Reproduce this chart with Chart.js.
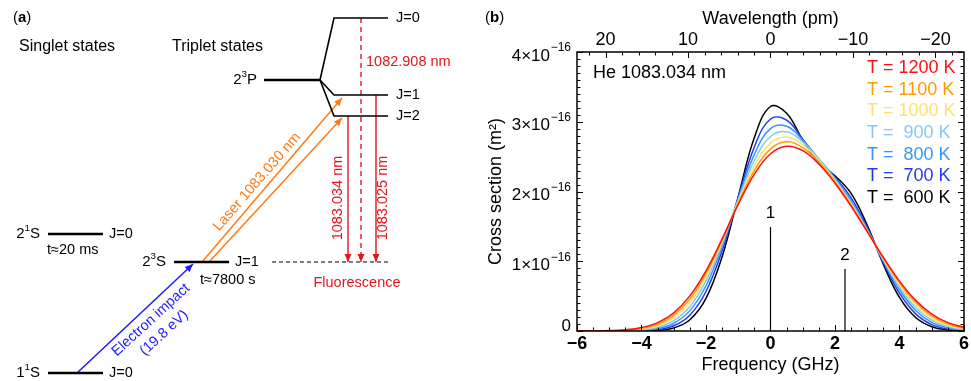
<!DOCTYPE html>
<html>
<head>
<meta charset="utf-8">
<script src="https://cdn.jsdelivr.net/npm/chart.js@4.4.1/dist/chart.umd.min.js"></script>
<style>
  html, body { margin: 0; padding: 0; background: #fff; }
  #wrap { position: relative; width: 971px; height: 381px; }
  #diagram { position: absolute; left: 0; top: 0; }
  #spectrum { position: absolute; left: 480px; top: 0; }
</style>
</head>
<body>
<div id="wrap">
  <canvas id="diagram" width="480" height="381"></canvas>
  <canvas id="spectrum" width="491" height="381"></canvas>
</div>
<script>
const FONT = "'Liberation Sans', Arial, sans-serif";

// ---------- panel (b): cross section, units of 1e-16 m^2 ----------
const freqGHz = [-6, -5.5, -5, -4.5, -4, -3.5, -3, -2.5, -2, -1.5, -1, -0.5, 0,
                 0.5, 1, 1.5, 2, 2.5, 3, 3.5, 4, 4.5, 5, 5.5, 6];
const temps = [1200, 1100, 1000, 900, 800, 700, 600];
const cs1200 = [0, 0.002, 0.006, 0.018, 0.050, 0.121, 0.260, 0.503, 0.862, 1.320, 1.814, 2.249, 2.542,
                2.649, 2.585, 2.394, 2.119, 1.789, 1.425, 1.054, 0.715, 0.439, 0.243, 0.120, 0.053];
const cs1100 = [0, 0.001, 0.004, 0.012, 0.037, 0.097, 0.224, 0.458, 0.822, 1.304, 1.834, 2.304, 2.612,
                2.712, 2.628, 2.421, 2.138, 1.802, 1.428, 1.042, 0.690, 0.409, 0.215, 0.100, 0.041];
const cs1000 = [0, 0.001, 0.002, 0.008, 0.026, 0.075, 0.187, 0.408, 0.775, 1.282, 1.857, 2.369, 2.694,
                2.781, 2.671, 2.444, 2.156, 1.818, 1.434, 1.031, 0.662, 0.375, 0.186, 0.081, 0.030];
const cs900  = [0, 0, 0.001, 0.004, 0.016, 0.053, 0.148, 0.352, 0.718, 1.252, 1.879, 2.444, 2.788,
                2.855, 2.709, 2.461, 2.173, 1.839, 1.444, 1.017, 0.630, 0.337, 0.156, 0.062, 0.021];
const cs800  = [0, 0, 0, 0.002, 0.009, 0.035, 0.111, 0.292, 0.649, 1.210, 1.900, 2.532, 2.901,
                2.935, 2.737, 2.465, 2.189, 1.867, 1.459, 1.002, 0.591, 0.295, 0.124, 0.044, 0.013];
const cs700  = [0, 0, 0, 0.001, 0.004, 0.020, 0.075, 0.227, 0.566, 1.150, 1.918, 2.639, 3.040,
                3.023, 2.750, 2.453, 2.205, 1.908, 1.482, 0.982, 0.542, 0.246, 0.092, 0.028, 0.007];
const cs600  = [0, 0, 0, 0, 0.002, 0.010, 0.044, 0.161, 0.467, 1.065, 1.927, 2.773, 3.219,
                3.122, 2.737, 2.416, 2.226, 1.972, 1.516, 0.955, 0.481, 0.193, 0.061, 0.015, 0.003];
const seriesValues = [cs1200, cs1100, cs1000, cs900, cs800, cs700, cs600];
const seriesColors = ['#ff1010', '#ff9a00', '#ffe070', '#86c8f2', '#3098ff', '#2438f0', '#000000'];

// hyperfine components marked 1 and 2
const compFreq = [0, 2.31];
const compHeight = [1.49, 0.89];
const compLabel = ['1', '2'];

const freqTicks = [-6, -4, -2, 0, 2, 4, 6];
const wavelengthTicks = [20, 10, 0, -10, -20];
const crossTicks = [0, 1, 2, 3, 4];
const wlRange = 23.46; // pm equivalent of +-6 GHz at 1083 nm

// ---------- panel (a): level diagram, in diagram units ----------
const levelLines = [
  [[48, 373], [103, 373]],              // 1 1S
  [[48, 234], [103, 234]],              // 2 1S
  [[174, 262], [229, 262]],             // 2 3S
  [[264, 80], [320, 80]],               // 2 3P
];
const fineLines = [
  [[320, 80], [334, 18], [388, 18]],    // J=0
  [[320, 80], [334, 95], [388, 95]],    // J=1
  [[320, 80], [334, 116], [388, 116]],  // J=2
];
const groundDash = [[272, 262], [388, 262]];
const fluorSolid = [
  [[348, 116], [348, 262]],
  [[376, 95], [376, 262]],
];
const fluorDashed = [[361, 18], [361, 262]];
const laserArrows = [
  [[202, 262], [342, 98]],
  [[209, 262], [342, 118]],
];
const impactArrow = [[77, 373], [193, 264]];

const RED = '#e3161c', ORANGE = '#ff7a12', BLUE = '#1a1aff';

// text: parts are [text, kind] where kind '' normal, 's' superscript, 'b' bold
const diagramLabels = [
  { parts: [['('], ['a', 'b'], [')']], x: 13, y: 18, size: 15, align: 'left' },
  { parts: [['Singlet states']], x: 19, y: 47, size: 16, align: 'left' },
  { parts: [['Triplet states']], x: 172, y: 47, size: 16, align: 'left' },
  { parts: [['J=0']], x: 396, y: 18, size: 14.5, align: 'left' },
  { parts: [['J=1']], x: 396, y: 95, size: 14.5, align: 'left' },
  { parts: [['J=2']], x: 396, y: 116, size: 14.5, align: 'left' },
  { parts: [['2'], ['3', 's'], ['P']], x: 257, y: 80, size: 15, align: 'right' },
  { parts: [['1082.908 nm']], x: 366, y: 62, size: 14.5, align: 'left', color: RED },
  { parts: [['1083.034 nm']], x: 338, y: 198, size: 14.5, align: 'center', color: RED, rot: -90 },
  { parts: [['1083.025 nm']], x: 383, y: 198, size: 14.5, align: 'center', color: RED, rot: -90 },
  { parts: [['Laser 1083.030 nm']], x: 257, y: 182, size: 14.5, align: 'center', color: ORANGE, rot: -49 },
  { parts: [['2'], ['1', 's'], ['S']], x: 40, y: 234, size: 15, align: 'right' },
  { parts: [['J=0']], x: 109, y: 234, size: 14.5, align: 'left' },
  { parts: [['t≈20 ms']], x: 47, y: 250, size: 14.5, align: 'left' },
  { parts: [['1'], ['1', 's'], ['S']], x: 40, y: 373, size: 15, align: 'right' },
  { parts: [['J=0']], x: 109, y: 373, size: 14.5, align: 'left' },
  { parts: [['2'], ['3', 's'], ['S']], x: 166, y: 262, size: 15, align: 'right' },
  { parts: [['J=1']], x: 235, y: 262, size: 14.5, align: 'left' },
  { parts: [['t≈7800 s']], x: 200, y: 280, size: 14.5, align: 'left' },
  { parts: [['Fluorescence']], x: 357, y: 283, size: 14.5, align: 'center', color: RED },
  { parts: [['Electron impact']], x: 151, y: 320, size: 14.5, align: 'center', color: BLUE, rot: -42.5 },
  { parts: [['(19.8 eV)']], x: 164, y: 333, size: 14.5, align: 'center', color: BLUE, rot: -42.5 },
];

// ---------- helpers ----------
function partFont(kind, size) {
  if (kind === 's') return (size * 0.65).toFixed(1) + 'px ' + FONT;
  if (kind === 'b') return 'bold ' + size + 'px ' + FONT;
  return size + 'px ' + FONT;
}

function drawRich(ctx, parts, x, y, size, align, color, rot) {
  ctx.save();
  ctx.translate(x, y);
  if (rot) ctx.rotate(rot * Math.PI / 180);
  let w = 0;
  parts.forEach(p => { ctx.font = partFont(p[1], size); w += ctx.measureText(p[0]).width; });
  let cx = align === 'right' ? -w : align === 'center' ? -w / 2 : 0;
  ctx.textAlign = 'left';
  ctx.textBaseline = 'middle';
  ctx.fillStyle = color || '#000';
  parts.forEach(p => {
    ctx.font = partFont(p[1], size);
    const dy = p[1] === 's' ? -size * 0.38 : 0;
    ctx.fillText(p[0], cx, dy);
    cx += ctx.measureText(p[0]).width;
  });
  ctx.restore();
}

const minusFmt = v => (v < 0 ? '\u2212' + Math.abs(v) : String(v));
const toPts = arr => arr.map(p => ({ x: p[0], y: p[1] }));

// ---------- panel (a) chart ----------
const diagramSets = [];
levelLines.forEach(l => diagramSets.push({ data: toPts(l), borderColor: '#000', borderWidth: 2.5 }));
fineLines.forEach(l => diagramSets.push({ data: toPts(l), borderColor: '#000', borderWidth: 1.6 }));
diagramSets.push({ data: toPts(groundDash), borderColor: '#000', borderWidth: 1.2, borderDash: [4, 3] });
fluorSolid.forEach(l => diagramSets.push({ data: toPts(l), borderColor: RED, borderWidth: 1.4, arrow: true }));
diagramSets.push({ data: toPts(fluorDashed), borderColor: RED, borderWidth: 1.4, borderDash: [5, 4], arrow: true });
laserArrows.forEach(l => diagramSets.push({ data: toPts(l), borderColor: ORANGE, borderWidth: 1.5, arrow: true }));
diagramSets.push({ data: toPts(impactArrow), borderColor: BLUE, borderWidth: 1.5, arrow: true });
diagramSets.forEach(d => { d.showLine = true; d.pointRadius = 0; d.fill = false; d.tension = 0; });

const arrowPlugin = {
  id: 'arrows',
  afterDatasetsDraw(chart) {
    const ctx = chart.ctx;
    chart.data.datasets.forEach((ds, i) => {
      if (!ds.arrow) return;
      const pts = chart.getDatasetMeta(i).data;
      const a = pts[pts.length - 2], b = pts[pts.length - 1];
      const ang = Math.atan2(b.y - a.y, b.x - a.x);
      const len = 8, half = 3.5;
      ctx.save();
      ctx.fillStyle = ds.borderColor;
      ctx.translate(b.x, b.y);
      ctx.rotate(ang);
      ctx.beginPath();
      ctx.moveTo(0, 0);
      ctx.lineTo(-len, -half);
      ctx.lineTo(-len, half);
      ctx.closePath();
      ctx.fill();
      ctx.restore();
    });
  },
  afterDraw(chart) {
    const ctx = chart.ctx;
    const sx = chart.scales.x, sy = chart.scales.y;
    diagramLabels.forEach(t => {
      drawRich(ctx, t.parts, sx.getPixelForValue(t.x), sy.getPixelForValue(t.y),
               t.size, t.align, t.color, t.rot);
    });
  }
};

new Chart(document.getElementById('diagram'), {
  type: 'scatter',
  data: { datasets: diagramSets },
  options: {
    responsive: false,
    animation: false,
    events: [],
    layout: { padding: 0 },
    plugins: { legend: { display: false }, tooltip: { enabled: false } },
    scales: {
      x: { type: 'linear', min: 0, max: 480, display: false },
      y: { type: 'linear', min: 0, max: 381, reverse: true, display: false }
    }
  },
  plugins: [arrowPlugin]
});

// ---------- panel (b) chart ----------
const specSets = seriesValues.map((vals, i) => ({
  label: 'T = ' + temps[i] + ' K',
  data: freqGHz.map((f, j) => ({ x: f, y: vals[j] })),
  borderColor: seriesColors[i],
  borderWidth: 1.5,
  pointRadius: 0,
  fill: false,
  tension: 0.4
}));
compFreq.forEach((f, i) => specSets.push({
  data: [{ x: f, y: 0 }, { x: f, y: compHeight[i] }],
  borderColor: '#000',
  borderWidth: 1.2,
  pointRadius: 0,
  fill: false
}));

const frame = {
  id: 'frame',
  afterDraw(chart) {
    const ctx = chart.ctx;
    const a = chart.chartArea;
    const x = chart.scales.x, x2 = chart.scales.x2, y = chart.scales.y;
    ctx.save();
    ctx.strokeStyle = '#000';
    ctx.lineWidth = 1.5;
    ctx.strokeRect(a.left, a.top, a.right - a.left, a.bottom - a.top);

    // inward ticks
    ctx.lineWidth = 1;
    ctx.beginPath();
    for (let f = -6; f <= 6.001; f += 0.5) {
      const px = Math.round(x.getPixelForValue(f)) + 0.5;
      const len = freqTicks.includes(f) ? 6 : 3.5;
      ctx.moveTo(px, a.bottom); ctx.lineTo(px, a.bottom - len);
    }
    for (let w = -22; w <= 22; w += 2) {
      const px = Math.round(x2.getPixelForValue(w)) + 0.5;
      const len = wavelengthTicks.includes(w) ? 6 : 3.5;
      ctx.moveTo(px, a.top); ctx.lineTo(px, a.top + len);
    }
    for (let k = 0; k <= 40; k++) {
      const v = k / 10;
      const py = Math.round(y.getPixelForValue(v)) + 0.5;
      const len = k % 10 === 0 ? 6 : 3.5;
      ctx.moveTo(a.left, py); ctx.lineTo(a.left + len, py);
      ctx.moveTo(a.right, py); ctx.lineTo(a.right - len, py);
    }
    ctx.stroke();

    // y tick labels with exponent
    crossTicks.forEach(v => {
      const py = y.getPixelForValue(v);
      if (v === 0) {
        drawRich(ctx, [['0']], a.left - 6, py - 5, 17, 'right');
      } else {
        drawRich(ctx, [[v + '×10']], a.left - 27, py + 4, 17, 'right');
        drawRich(ctx, [['\u221216']], a.left - 6, py - 4, 12, 'right');
      }
    });

    // component labels
    compFreq.forEach((f, i) => {
      drawRich(ctx, [[compLabel[i]]], x.getPixelForValue(f), y.getPixelForValue(compHeight[i]) - 14, 17, 'center');
    });

    // legend as coloured text
    temps.forEach((t, i) => {
      const txt = 'T = ' + (t < 1000 ? ' ' : '') + t + ' K';
      drawRich(ctx, [[txt]], a.left + 290, a.top + 16 + i * 21.7, 18, 'left', seriesColors[i]);
    });
    drawRich(ctx, [['He 1083.034 nm']], a.left + 16, a.top + 21, 18, 'left');
    drawRich(ctx, [['('], ['b', 'b'], [')']], 5, 18, 15, 'left');
    ctx.restore();
  }
};

new Chart(document.getElementById('spectrum'), {
  type: 'line',
  data: { datasets: specSets },
  options: {
    responsive: false,
    animation: false,
    events: [],
    layout: { padding: { left: 0, right: 6, top: 0, bottom: 0 } },
    plugins: { legend: { display: false }, tooltip: { enabled: false } },
    scales: {
      x: {
        type: 'linear', position: 'bottom', min: -6, max: 6,
        afterFit: s => { s.height = 50; },
        grid: { display: false, drawTicks: false },
        border: { display: false },
        ticks: {
          stepSize: 2, padding: 2, color: '#000', maxRotation: 0, autoSkip: false,
          font: { family: FONT, size: 18, weight: 'bold' },
          callback: v => minusFmt(v)
        },
        title: { display: true, text: 'Frequency (GHz)', color: '#000',
                 font: { family: FONT, size: 18 }, padding: { top: 0, bottom: 5 } }
      },
      x2: {
        type: 'linear', position: 'top', display: true, min: -wlRange, max: wlRange, reverse: true,
        afterFit: s => { s.height = 52; },
        grid: { display: false, drawTicks: false },
        border: { display: false },
        ticks: {
          stepSize: 10, includeBounds: false, padding: 1, color: '#000', maxRotation: 0, autoSkip: false,
          font: { family: FONT, size: 18 },
          callback: v => minusFmt(v)
        },
        title: { display: true, text: 'Wavelength (pm)', color: '#000',
                 font: { family: FONT, size: 18 }, padding: { top: 8, bottom: 0 } }
      },
      y: {
        type: 'linear', min: 0, max: 4,
        afterFit: s => { s.width = 97; },
        grid: { display: false, drawTicks: false },
        border: { display: false },
        ticks: { display: false, stepSize: 1 },
        title: { display: true, text: 'Cross section (m²)', color: '#000',
                 font: { family: FONT, size: 18 }, padding: { top: 5, bottom: 0 } }
      }
    }
  },
  plugins: [frame]
});
</script>
</body>
</html>
